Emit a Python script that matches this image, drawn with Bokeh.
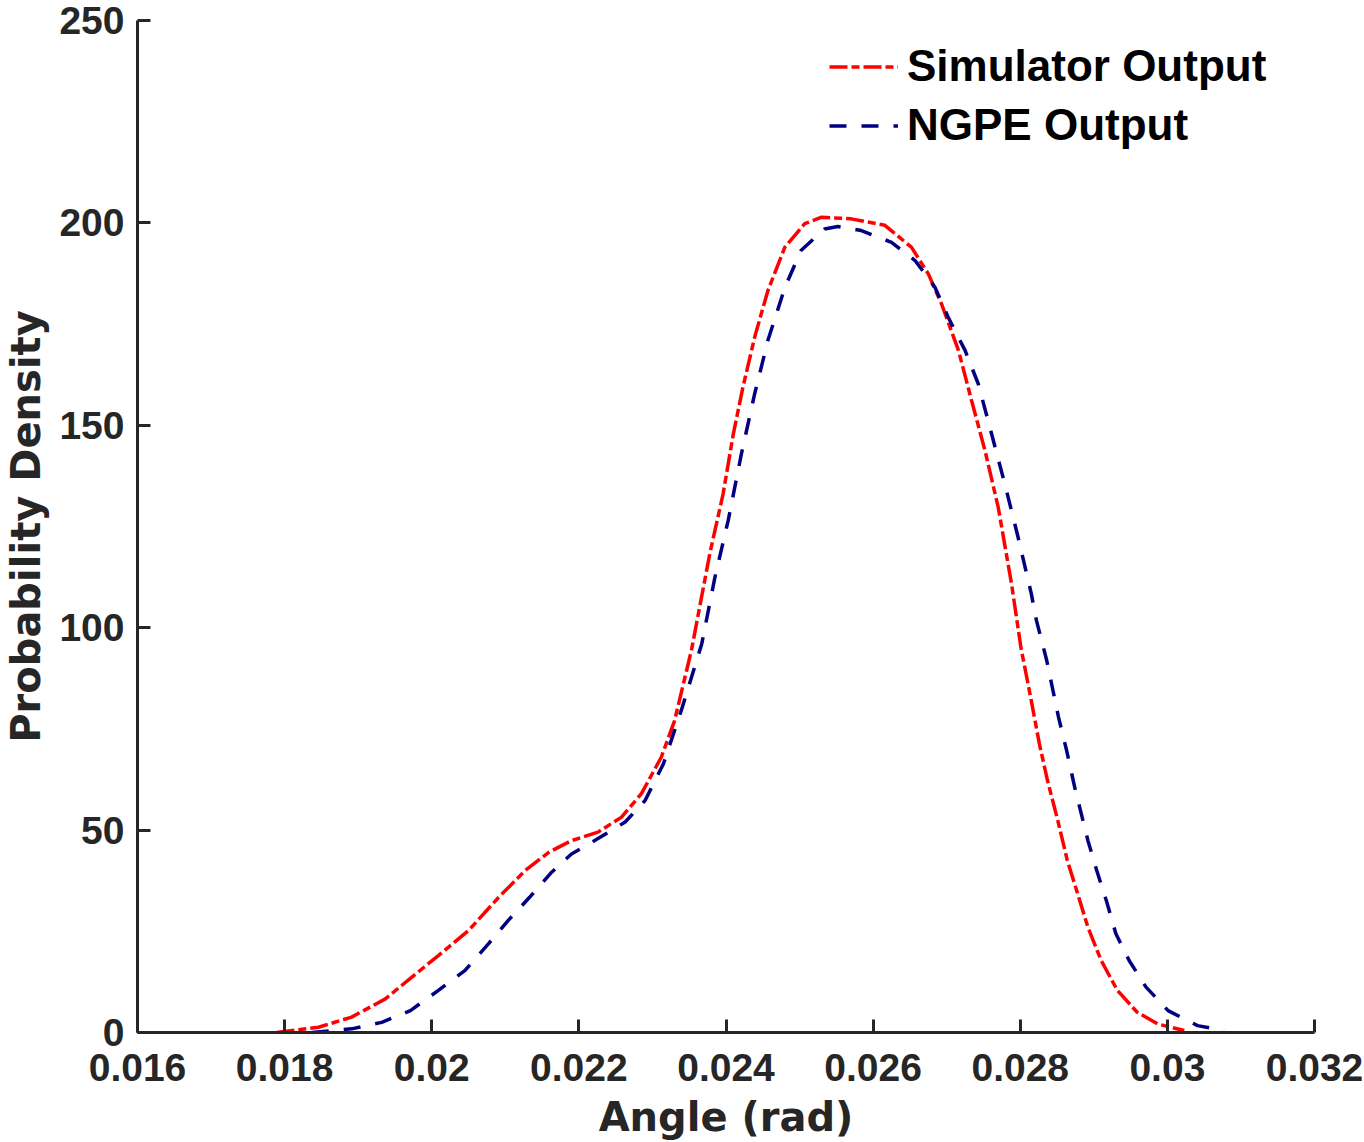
from bokeh.plotting import figure
from bokeh.models import Range1d, FixedTicker, Legend, LegendItem
from bokeh.embed import file_html
from bokeh.resources import INLINE

# ---- data ----
sim_x = [0.01789, 0.01846, 0.01891, 0.01937, 0.01973, 0.02009, 0.02050, 0.02091,
         0.02127, 0.02159, 0.02190, 0.02226, 0.02258, 0.02285, 0.02312, 0.02330,
         0.02353, 0.02378, 0.02396, 0.02410, 0.02423, 0.02439, 0.02457, 0.02480,
         0.02507, 0.02530, 0.02570, 0.02616, 0.02652, 0.02675, 0.02693, 0.02716,
         0.02734, 0.02752, 0.02770, 0.02788, 0.02801, 0.02815, 0.02826, 0.02837,
         0.02851, 0.02864, 0.02878, 0.02892, 0.02910, 0.02932, 0.02959, 0.02987,
         0.03023]
sim_y = [0.0, 1.3, 3.8, 8.3, 13.7, 19.0, 25.2, 33.4,
         40.0, 44.5, 47.4, 49.5, 53.2, 59.0, 68.0, 77.0,
         94.4, 118.3, 133.0, 147.9, 159.4, 171.8, 183.3, 194.0,
         199.8, 201.4, 201.0, 199.4, 194.0, 187.4, 180.0, 168.5,
         156.0, 143.8, 129.8, 111.0, 95.0, 82.0, 71.3, 62.3,
         52.4, 42.5, 34.3, 26.0, 17.8, 10.4, 5.0, 2.1,
         0.5]

ngpe_x = [0.01837, 0.01891, 0.01932, 0.01971, 0.02009, 0.02045, 0.02077, 0.02104,
          0.02133, 0.02163, 0.02190, 0.02226, 0.02263, 0.02290, 0.02315, 0.02340,
          0.02367, 0.02385, 0.02403, 0.02421, 0.02439, 0.02457, 0.02480, 0.02502,
          0.02534, 0.02552, 0.02584, 0.02625, 0.02657, 0.02684, 0.02702, 0.02725,
          0.02743, 0.02761, 0.02779, 0.02797, 0.02815, 0.02822, 0.02836, 0.02852,
          0.02863, 0.02874, 0.02892, 0.02904, 0.02917, 0.02930, 0.02948, 0.02971,
          0.03001, 0.03041, 0.03077]
ngpe_y = [0.0, 0.9, 2.5, 5.4, 10.4, 15.3, 21.9, 27.7,
          33.4, 39.6, 44.1, 47.9, 52.0, 57.3, 66.4, 80.0,
          96.0, 112.5, 126.5, 143.0, 157.8, 171.0, 184.0, 193.2,
          198.5, 199.1, 198.1, 195.2, 190.7, 184.1, 176.7, 168.5,
          160.2, 147.9, 135.5, 122.4, 108.4, 101.8, 91.9, 77.9,
          69.7, 60.6, 47.4, 40.0, 32.6, 24.4, 17.8, 11.2,
          5.4, 1.7, 0.5]

x_ticks = [0.016, 0.018, 0.020, 0.022, 0.024, 0.026, 0.028, 0.030, 0.032]
x_tick_labels = ["0.016", "0.018", "0.02", "0.022", "0.024", "0.026", "0.028", "0.03", "0.032"]
y_ticks = [0, 50, 100, 150, 200, 250]
series_names = ["Simulator Output", "NGPE Output"]
x_label = "Angle (rad)"
y_label = "Probability Density"

AX = "#262626"

p = figure(width=1364, height=1142, output_backend="svg", toolbar_location=None,
           x_range=Range1d(x_ticks[0], x_ticks[-1]), y_range=Range1d(y_ticks[0], y_ticks[-1]),
           min_border_left=136, min_border_right=50, min_border_top=20, min_border_bottom=110,
           x_axis_label=x_label, y_axis_label=y_label)
p.xgrid.visible = False
p.ygrid.visible = False
p.outline_line_color = None
p.background_fill_color = "white"

p.xaxis.ticker = FixedTicker(ticks=x_ticks)
p.xaxis.major_label_overrides = {t: s for t, s in zip(x_ticks, x_tick_labels)}
p.yaxis.ticker = FixedTicker(ticks=y_ticks)

for ax in (p.xaxis[0], p.yaxis[0]):
    ax.axis_line_color = AX
    ax.axis_line_width = 3
    ax.major_tick_line_color = AX
    ax.major_tick_line_width = 3
    ax.major_tick_in = 13
    ax.major_tick_out = 0
    ax.minor_tick_line_color = None
    ax.major_label_text_font = "Liberation Sans"
    ax.major_label_text_font_style = "bold"
    ax.major_label_text_font_size = "39px"
    ax.major_label_text_color = AX
    ax.axis_label_text_font = "DejaVu Sans"
    ax.axis_label_text_font_style = "bold"
    ax.axis_label_text_font_size = "40px"
    ax.axis_label_text_color = AX
p.xaxis.major_label_standoff = 21
p.yaxis.major_label_standoff = 13
p.xaxis.axis_label_standoff = 10
p.yaxis.axis_label_standoff = 7

r1 = p.line(sim_x, sim_y, line_color="#FF0000", line_width=3.5, line_dash="18 4 8 4")
r2 = p.line(ngpe_x, ngpe_y, line_color="#000080", line_width=3.5, line_dash="17 15")

legend = Legend(items=[LegendItem(label=series_names[0], renderers=[r1]),
                       LegendItem(label=series_names[1], renderers=[r2])],
                location=(692, 877.5), glyph_width=69, glyph_height=59, label_height=59,
                label_standoff=9, spacing=0, padding=0, margin=0,
                border_line_color=None, background_fill_alpha=0,
                label_text_font="Liberation Sans", label_text_font_style="bold",
                label_text_font_size="44px", label_text_color="#000000")
p.add_layout(legend)

open("out.html", "w").write(file_html(p, INLINE))
